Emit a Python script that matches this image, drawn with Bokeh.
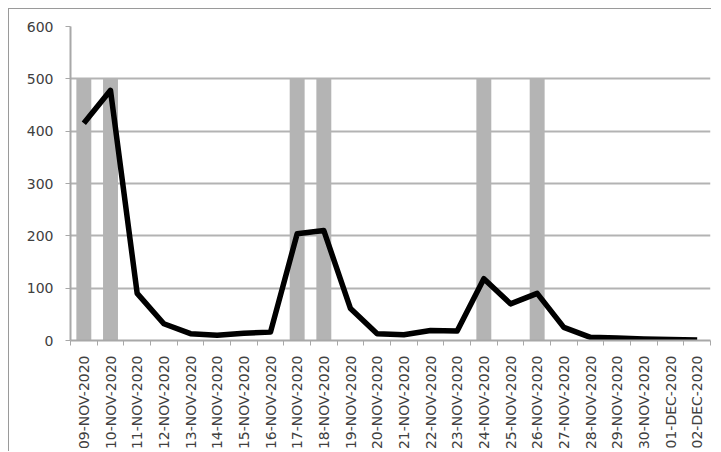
import math
from bokeh.plotting import figure
from bokeh.models import Range1d, FixedTicker
from bokeh.embed import file_html
from bokeh.resources import INLINE

dates = ["09-NOV-2020", "10-NOV-2020", "11-NOV-2020", "12-NOV-2020", "13-NOV-2020",
         "14-NOV-2020", "15-NOV-2020", "16-NOV-2020", "17-NOV-2020", "18-NOV-2020",
         "19-NOV-2020", "20-NOV-2020", "21-NOV-2020", "22-NOV-2020", "23-NOV-2020",
         "24-NOV-2020", "25-NOV-2020", "26-NOV-2020", "27-NOV-2020", "28-NOV-2020",
         "29-NOV-2020", "30-NOV-2020", "01-DEC-2020", "02-DEC-2020"]
line_values = [415, 478, 90, 32, 13, 10, 14, 16, 204, 210, 61, 13, 11, 19, 18,
               118, 70, 90, 25, 6, 5, 3, 2, 1]
bar_dates = ["09-NOV-2020", "10-NOV-2020", "17-NOV-2020", "18-NOV-2020",
             "24-NOV-2020", "26-NOV-2020"]
bar_values = [500, 500, 500, 500, 500, 500]
y_ticks = [0, 100, 200, 300, 400, 500, 600]

idx = list(range(len(dates)))
bar_idx = [dates.index(d) for d in bar_dates]

p = figure(width=703, height=443, output_backend="svg", toolbar_location=None,
           x_range=Range1d(-0.5, len(dates) - 0.5), y_range=Range1d(0, 600),
           min_border_left=61, min_border_top=17, min_border_right=2,
           min_border_bottom=112)
p.outline_line_color = None
p.styles = {"margin-left": "8px", "margin-top": "8px",
            "border-left": "1px solid #9a9a9a", "border-top": "1px solid #9a9a9a"}

p.vbar(x=bar_idx, top=bar_values, width=0.56, fill_color="#b4b4b4", line_color=None)
p.line(x=idx, y=line_values, line_color="black", line_width=5.5, line_join="round")

# axes
p.xgrid.grid_line_color = None
p.ygrid.grid_line_color = "#b3b3b3"
p.ygrid.grid_line_width = 2
p.ygrid.ticker = FixedTicker(ticks=y_ticks)

p.yaxis.ticker = FixedTicker(ticks=y_ticks)
p.yaxis.axis_line_color = "#a8a8a8"
p.yaxis.axis_line_width = 2
p.yaxis.major_tick_line_color = "#a8a8a8"
p.yaxis.major_tick_out = 5
p.yaxis.major_tick_in = 0
p.yaxis.minor_tick_line_color = None
p.yaxis.major_label_standoff = 12
p.yaxis.major_label_text_font = "DejaVu Sans"
p.yaxis.major_label_text_font_size = "14px"
p.yaxis.major_label_text_color = "#404040"

bounds = [i - 0.5 for i in range(len(dates) + 1)]
p.xaxis.ticker = FixedTicker(ticks=idx, minor_ticks=bounds)
p.xaxis.major_label_overrides = {i: d for i, d in enumerate(dates)}
p.xaxis.major_label_orientation = math.pi / 2
p.xaxis.axis_line_color = "#a8a8a8"
p.xaxis.axis_line_width = 2
p.xaxis.major_tick_line_color = None
p.xaxis.major_tick_out = 0
p.xaxis.major_tick_in = 0
p.xaxis.minor_tick_line_color = "#a8a8a8"
p.xaxis.minor_tick_out = 5
p.xaxis.minor_tick_in = 0
p.xaxis.major_label_standoff = 10
p.xaxis.major_label_text_font = "DejaVu Sans"
p.xaxis.major_label_text_font_size = "14px"
p.xaxis.major_label_text_color = "#404040"

open("out.html", "w").write(file_html(p, INLINE))
